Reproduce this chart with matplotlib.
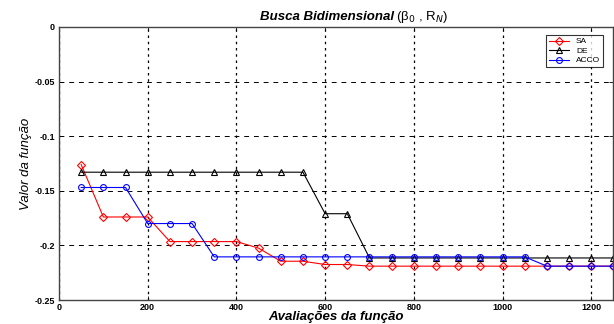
import matplotlib
matplotlib.use("Agg")
import matplotlib.pyplot as plt
import numpy as np

evals = [50, 100, 150, 200, 250, 300, 350, 400, 450, 500, 550, 600, 650,
         700, 750, 800, 850, 900, 950, 1000, 1050, 1100, 1150, 1200, 1250]
sa = [-0.126, -0.174, -0.174, -0.174, -0.1965, -0.1965, -0.1965, -0.1965, -0.2025,
      -0.2145, -0.2145, -0.2175, -0.2175, -0.219, -0.219, -0.219, -0.219, -0.219,
      -0.219, -0.219, -0.219, -0.219, -0.219, -0.219, -0.219]
de = [-0.133] * 11 + [-0.171, -0.171] + [-0.2115] * 12
acco = [-0.147, -0.147, -0.147, -0.180, -0.180, -0.180, -0.2105, -0.2105, -0.2105,
        -0.2105, -0.2105, -0.2105, -0.2105, -0.2105, -0.2105, -0.2105, -0.2105,
        -0.2105, -0.2105, -0.2105, -0.2105, -0.219, -0.219, -0.219, -0.219]
xticks = [0, 200, 400, 600, 800, 1000, 1200]
yticks = [0, -0.05, -0.1, -0.15, -0.2, -0.25]
yticklabels = ["0", "-0.05", "-0.1", "-0.15", "-0.2", "-0.25"]

plt.rcParams['font.family'] = ['Liberation Sans', 'DejaVu Sans']
fig = plt.figure(figsize=(6.14, 3.24), dpi=100)
bottom = 0.074
ax = fig.add_axes([0.0961, bottom, 0.903, 0.917 - bottom])

ax.plot(evals, sa, color='red', lw=0.8, marker='D', ms=3.8, mfc='none', mew=0.8, label='SA')
ax.plot(evals, de, color='black', lw=0.8, marker='^', ms=4.2, mfc='none', mew=0.8, label='DE')
ax.plot(evals, acco, color='blue', lw=0.8, marker='o', ms=4.2, mfc='none', mew=0.8, label='ACCO')

ax.set_xlim(0, 1250)
ax.set_ylim(-0.25, 0)
ax.set_xticks(xticks)
ax.set_xticklabels([str(t) for t in xticks], fontsize=6.5, fontweight='bold')
ax.set_yticks(yticks)
ax.set_yticklabels(yticklabels, fontsize=6.5, fontweight='bold')
ax.tick_params(direction='in', length=3, width=0.6, pad=3)
ax.tick_params(axis='x', pad=2)
ax.xaxis.set_ticks_position('both')
ax.yaxis.set_ticks_position('both')

ax.xaxis.grid(True, color='black', ls=(0, (2, 3)), lw=0.9)
ax.yaxis.grid(True, color='black', ls=(0, (5, 5)), lw=0.7)
for s in ax.spines.values():
    s.set_linewidth(1.0)
    s.set_color('#444444')

fig.text(0.642, 0.937, "Busca Bidimensional", fontsize=9.5, style='italic',
         fontweight='bold', ha='right', va='baseline')
fig.text(0.645, 0.937, "(β$_0$ , R$_N$)", fontsize=9.5, ha='left', va='baseline')
ax.set_ylabel("Valor da função", fontsize=9.5, style='italic', fontstretch='condensed', labelpad=2)
ax.set_xlabel("Avaliações da função", fontsize=9.5, style='italic', fontweight='bold',
              va='bottom')
ax.xaxis.set_label_coords(0.5, (0.002 - bottom) / (0.917 - bottom))

leg = ax.legend(loc='upper right', fontsize=6, frameon=True, fancybox=False,
                edgecolor='black', handlelength=2.5, borderpad=0.3, labelspacing=0.2,
                bbox_to_anchor=(0.988, 0.985))
leg.get_frame().set_linewidth(0.8)

fig.savefig("out.png", dpi=100)
